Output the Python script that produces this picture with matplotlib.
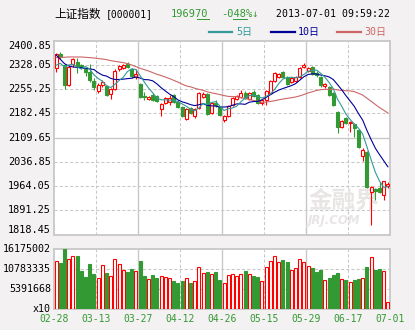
import numpy as np
import matplotlib
matplotlib.use("Agg")
import matplotlib.pyplot as plt
from matplotlib.lines import Line2D

plt.rcParams["font.family"] = ["DejaVu Sans Mono", "Noto Sans CJK SC"]

W, H = 415, 330
BG = "#f3f1f1"
GRID = "#c8c8c8"
UP = "#ff0000"
DOWN = "#339933"
C_MA5, C_MA10, C_MA30 = "#339999", "#000099", "#cc6666"

# SSE Composite daily bars, 2013-02-28 .. 2013-07-01
opens = [2318, 2360, 2327, 2268, 2331, 2337, 2329, 2315, 2308, 2281,
         2251, 2268, 2265, 2241, 2255, 2315, 2318, 2331, 2315, 2293,
         2271, 2236, 2225, 2238, 2236, 2195, 2213, 2218, 2238, 2218,
         2201, 2165, 2198, 2175, 2198, 2231, 2241, 2183, 2215, 2203,
         2163, 2175, 2208, 2225, 2233, 2245, 2225, 2248, 2238, 2213,
         2223, 2243, 2281, 2293, 2308, 2291, 2278, 2281, 2291, 2323,
         2311, 2321, 2305, 2293, 2265, 2263, 2243, 2188, 2143, 2168,
         2153, 2151, 2133, 2055, 2068, 1948, 1955, 1958, 1938, 1965]
highs = [2365, 2366, 2330, 2328, 2350, 2348, 2332, 2318, 2331, 2288,
         2273, 2283, 2268, 2258, 2315, 2328, 2331, 2338, 2318, 2315,
         2274, 2246, 2236, 2244, 2238, 2213, 2233, 2238, 2241, 2222,
         2205, 2198, 2202, 2198, 2248, 2246, 2244, 2218, 2223, 2206,
         2178, 2208, 2231, 2238, 2253, 2250, 2248, 2253, 2241, 2226,
         2254, 2284, 2308, 2305, 2311, 2294, 2291, 2296, 2321, 2333,
         2322, 2324, 2310, 2296, 2275, 2266, 2246, 2191, 2164, 2171,
         2161, 2154, 2136, 2078, 2071, 1966, 1958, 1978, 1981, 1978]
lows = [2308, 2346, 2255, 2265, 2323, 2303, 2316, 2295, 2278, 2253,
        2245, 2263, 2235, 2226, 2253, 2310, 2315, 2320, 2290, 2285,
        2230, 2223, 2222, 2220, 2216, 2176, 2210, 2208, 2215, 2200,
        2172, 2162, 2180, 2170, 2195, 2228, 2178, 2180, 2203, 2175,
        2158, 2172, 2205, 2222, 2228, 2225, 2222, 2232, 2210, 2208,
        2208, 2240, 2278, 2290, 2290, 2268, 2275, 2278, 2288, 2318,
        2306, 2298, 2293, 2261, 2258, 2235, 2205, 2123, 2140, 2150,
        2128, 2113, 2078, 2041, 1960, 1848, 1923, 1943, 1923, 1958]
closes = [2361, 2352, 2268, 2323, 2346, 2323, 2319, 2307, 2283, 2261,
          2268, 2278, 2238, 2255, 2311, 2325, 2328, 2323, 2295, 2301,
          2233, 2232, 2233, 2223, 2220, 2210, 2230, 2230, 2218, 2203,
          2175, 2195, 2185, 2195, 2245, 2241, 2181, 2215, 2208, 2178,
          2175, 2205, 2228, 2235, 2245, 2228, 2245, 2235, 2213, 2223,
          2251, 2281, 2303, 2301, 2293, 2271, 2288, 2293, 2318, 2328,
          2318, 2301, 2299, 2268, 2271, 2238, 2208, 2143, 2161, 2153,
          2158, 2138, 2081, 2073, 1963, 1963, 1951, 1948, 1979.21, 1969.70]
# volume in units of 10 shares
volumes = [12870000, 12420000, 16175002, 13400000, 14210000, 14300000, 10280000, 8670000, 12060000, 9470000,
           8220000, 11800000, 9650000, 8850000, 13400000, 12060000, 10460000, 10010000, 10720000, 10200000,
           12960000, 8850000, 7950000, 9120000, 8220000, 8850000, 8490000, 8220000, 7510000, 7060000,
           7510000, 8220000, 7060000, 7510000, 11170000, 9560000, 9920000, 9380000, 9920000, 7780000,
           6880000, 9030000, 9380000, 8850000, 9290000, 10190000, 9380000, 8850000, 8580000, 7510000,
           11170000, 12870000, 14210000, 12510000, 13140000, 12600000, 10460000, 10900000, 13320000, 12510000,
           11530000, 10990000, 9920000, 10460000, 7780000, 8310000, 9120000, 9650000, 8040000, 7780000,
           7240000, 7780000, 8040000, 8310000, 11260000, 13940000, 10460000, 10720000, 10190000, 1880000]

ma5 = [2327, 2333, 2322, 2328, 2330.0, 2322.4, 2315.8, 2323.6, 2315.6, 2298.6,
       2287.6, 2279.4, 2265.6, 2260.0, 2270.0, 2281.4, 2291.4, 2308.4, 2316.4, 2314.4,
       2296.0, 2276.8, 2258.8, 2244.4, 2228.2, 2223.6, 2223.2, 2222.6, 2221.6, 2218.2,
       2211.2, 2204.2, 2195.2, 2190.6, 2199.0, 2212.2, 2209.4, 2215.4, 2218.0, 2204.6,
       2191.4, 2196.2, 2198.8, 2204.2, 2217.6, 2228.2, 2236.2, 2237.6, 2233.2, 2228.8,
       2233.4, 2240.6, 2254.2, 2271.8, 2285.8, 2289.8, 2291.2, 2289.2, 2292.6, 2299.6,
       2309.0, 2311.6, 2312.8, 2302.8, 2291.4, 2275.4, 2256.8, 2225.6, 2204.2, 2180.6,
       2164.6, 2150.6, 2138.2, 2120.6, 2082.6, 2043.6, 2006.2, 1979.6, 1960.8, 1962.2]
ma10 = [2358, 2345, 2332, 2325, 2322, 2321, 2320, 2318, 2316, 2314.3,
        2305.0, 2297.6, 2294.6, 2287.8, 2284.3, 2284.5, 2285.4, 2287.0, 2288.2, 2292.2,
        2288.7, 2284.1, 2283.6, 2280.4, 2271.3, 2259.8, 2250.0, 2240.7, 2233.0, 2223.2,
        2217.4, 2213.7, 2208.9, 2206.1, 2208.6, 2211.7, 2206.8, 2205.3, 2204.3, 2201.8,
        2201.8, 2202.8, 2207.1, 2211.1, 2211.1, 2209.8, 2216.2, 2218.2, 2218.7, 2223.2,
        2230.8, 2238.4, 2245.9, 2252.5, 2257.3, 2261.6, 2265.9, 2271.7, 2282.2, 2292.7,
        2299.4, 2301.4, 2301.0, 2297.7, 2295.5, 2292.2, 2284.2, 2269.2, 2253.5, 2236.0,
        2220.0, 2203.7, 2181.9, 2162.4, 2131.6, 2104.1, 2078.4, 2058.9, 2040.7, 2022.4]
ma30 = [2350, 2351, 2351, 2352, 2352, 2352, 2352, 2351, 2350, 2349,
        2347, 2346, 2344, 2341, 2339, 2337, 2335, 2332, 2328, 2323,
        2318, 2314, 2310, 2305, 2300, 2296, 2292, 2287, 2282, 2276.6,
        2270.4, 2265.2, 2262.4, 2258.1, 2254.8, 2252.0, 2247.4, 2244.4, 2241.9, 2239.1,
        2236.0, 2233.6, 2233.2, 2232.6, 2230.4, 2227.1, 2224.4, 2221.4, 2218.7, 2216.1,
        2216.7, 2218.3, 2220.7, 2223.3, 2225.7, 2227.7, 2229.7, 2231.8, 2235.1, 2239.3,
        2244.0, 2247.6, 2251.4, 2253.8, 2254.7, 2254.6, 2255.5, 2253.1, 2251.5, 2250.7,
        2250.1, 2247.9, 2243.0, 2237.6, 2228.2, 2219.3, 2209.5, 2200.0, 2192.2, 2183.7]

price_ticks = [1818.45, 1891.25, 1964.05, 2036.85, 2109.65, 2182.45, 2255.25, 2328.05, 2400.85]
vol_ticks = [0, 5391668, 10783335, 16175002]
vol_labels = ["x10", "5391668", "10783335", "16175002"]
date_labels = ["02-28", "03-13", "03-27", "04-12", "04-26", "05-15", "05-29", "06-17", "07-01"]


def box(x0, y0, x1, y1):
    # pixel box (top-left origin) -> figure fraction rect
    return [x0 / W, 1 - y1 / H, (x1 - x0) / W, (y1 - y0) / H]


def fx(x):
    return x / W


def fy(y):
    return 1 - y / H


fig = plt.figure(figsize=(W / 100, H / 100), dpi=100, facecolor=BG)
ax = fig.add_axes(box(54, 40.7, 390, 234.7))
axv = fig.add_axes(box(54, 248.7, 390, 309))

n = len(closes)
idx = np.arange(n)
up = np.array(closes) >= np.array(opens)

for a in (ax, axv):
    a.set_xlim(-0.5, n - 0.5)
    a.set_xticks([])
    a.set_yticks([])
    for s in a.spines.values():
        s.set_color(GRID)
        s.set_linewidth(1.3)
    # vertical grid: alternate dashed / solid every 10 sessions
    for k in range(1, 8):
        xg = -0.5 + 10 * k
        if k % 2 == 0:
            a.axvline(xg, color=GRID, lw=1.0, zorder=0)
        else:
            a.axvline(xg, color=GRID, lw=0.75, ls=(0, (3, 2)), zorder=0)

ax.set_ylim(price_ticks[0], price_ticks[-1])
axv.set_ylim(0, vol_ticks[-1])

for j, yv in enumerate(price_ticks[1:-1], start=1):
    if j == 4:
        ax.axhline(yv, color=GRID, lw=1.0, zorder=0)
    else:
        ax.axhline(yv, color=GRID, lw=0.75, ls=(0, (3, 2)), zorder=0)
for yv in vol_ticks[1:-1]:
    axv.axhline(yv, color=GRID, lw=0.75, ls=(0, (3, 2)), zorder=0)

# watermark
ax.text((308 - 54) / 336, 0.174, "金融界", transform=ax.transAxes, fontsize=17,
        family=["Noto Sans CJK SC"], fontweight="bold", color="#e9e5e5",
        va="center", ha="left", zorder=1, clip_on=True)
ax.text((308 - 54) / 336, 0.072, "JRJ.COM", transform=ax.transAxes, fontsize=8.5,
        family=["DejaVu Sans"], fontweight="bold", style="italic", color="#e9e5e5",
        va="center", ha="left", zorder=1, clip_on=True)

# candles
body_w = 0.7
for i in range(n):
    col = UP if up[i] else DOWN
    ax.vlines(i, lows[i], highs[i], color=col, lw=0.8, zorder=3)
    lo = min(opens[i], closes[i])
    h = max(abs(closes[i] - opens[i]), 1.5)
    ax.bar(i, h, bottom=lo, width=body_w,
           facecolor="white" if up[i] else DOWN, edgecolor=col, lw=0.8, zorder=4)

ax.plot(idx, ma30, color=C_MA30, lw=0.8, zorder=5)
ax.plot(idx, ma10, color=C_MA10, lw=0.8, zorder=5)
ax.plot(idx, ma5, color=C_MA5, lw=0.8, zorder=5)

# volume
for i in range(n):
    axv.bar(i, volumes[i], width=body_w,
            facecolor="white" if up[i] else DOWN,
            edgecolor=UP if up[i] else DOWN, lw=0.8, zorder=3)

# axis labels
lab_x = -3 / 336
for j, yv in enumerate(price_ticks):
    va = "center"
    if j == 0:
        va = "bottom"
    elif j == len(price_ticks) - 1:
        va = "top"
    ax.text(lab_x, yv, f"{yv:.2f}", transform=ax.get_yaxis_transform(),
            ha="right", va=va, fontsize=7.4, color="black")
for yv, s in zip(vol_ticks, vol_labels):
    axv.text(lab_x, yv, s, transform=axv.get_yaxis_transform(),
             ha="right", va="center", fontsize=7.2, color="black")
for k, s in enumerate(date_labels):
    fig.text(fx(54 + 42 * k), fy(319), s, ha="center", va="center",
             fontsize=7.0, color=DOWN)

# header
fig.text(fx(54), fy(14), "上证指数", family=["Noto Sans CJK SC"], fontsize=8.4,
         va="center", ha="left", color="black")
fig.text(fx(106), fy(14), "[000001]", fontsize=7.0, va="center", ha="left", color="black")
fig.text(fx(171), fy(14), "196970", fontsize=7.5, va="center", ha="left", color=DOWN)
fig.add_artist(Line2D([fx(197), fx(209)], [fy(18.5), fy(18.5)], color=DOWN, lw=0.7))
fig.text(fx(221), fy(14), "-048%↓", fontsize=7.5, va="center", ha="left", color=DOWN,
         family=["DejaVu Sans Mono", "DejaVu Sans"])
fig.add_artist(Line2D([fx(233), fx(247)], [fy(18.5), fy(18.5)], color=DOWN, lw=0.7))
fig.text(fx(276), fy(14), "2013-07-01 09:59:22", fontsize=7.1, va="center", ha="left",
         color="black")

# legend row
for x0, x1, tx, s, c in [(209, 232, 236, "5日", C_MA5),
                         (271, 295, 298, "10日", C_MA10),
                         (337, 361, 364, "30日", C_MA30)]:
    fig.add_artist(Line2D([fx(x0), fx(x1)], [fy(32), fy(32)], color=c, lw=1.6))
    fig.text(fx(tx), fy(32), s, fontsize=7.2, va="center", ha="left", color=c)

fig.savefig("out.png", dpi=100, facecolor=BG)
